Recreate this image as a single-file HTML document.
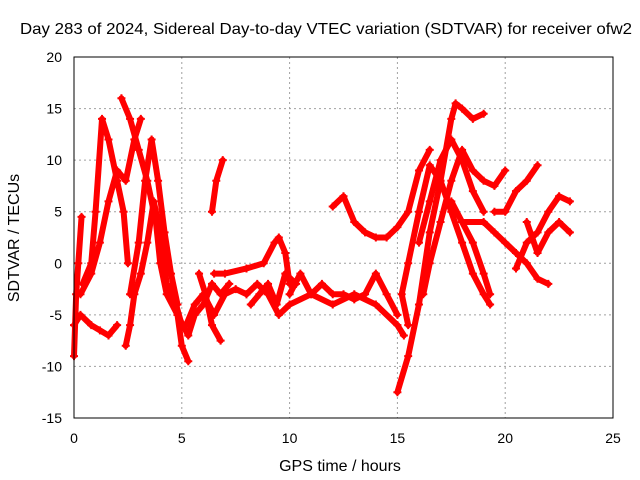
<!DOCTYPE html>
<html><head><meta charset="utf-8"><style>
body{margin:0;background:#fff;}
svg{display:block;font-family:"Liberation Sans",sans-serif;}
</style></head><body>
<svg id="chart" width="640" height="480">
<rect width="640" height="480" fill="#fff"/>
<text x="326" y="34" font-size="16" text-anchor="middle" textLength="612" lengthAdjust="spacingAndGlyphs">Day 283 of 2024, Sidereal Day-to-day VTEC variation (SDTVAR) for receiver ofw2</text>
<text x="340" y="471" font-size="16" text-anchor="middle">GPS time / hours</text>
<text transform="translate(19,238) rotate(-90)" font-size="16" text-anchor="middle">SDTVAR / TECUs</text>
<g id="grid"></g><g id="marks"></g>
<rect x="74" y="57" width="539" height="361" fill="none" stroke="#000"/>
</svg>
<script>
const xTicks=[0,5,10,15,20,25];
const yTicks=[-15,-10,-5,0,5,10,15,20];
const t1=[[0,-6],[0.3,-5],[0.8,-6],[1.2,-6.5],[1.6,-7],[2,-6]];
const t2=[[0,-9],[0.1,-3],[0.2,0],[0.35,4.5]];
const t3=[[0.4,-2],[0.8,0],[1,5],[1.3,14],[1.6,12],[2,8],[2.3,5],[2.5,0]];
const t4=[[2.2,16],[2.6,14],[3,11],[3.4,8],[3.8,4],[4,0],[4.3,-3],[4.8,-5],[5,-8],[5.3,-9.5]];
const t5=[[2.6,-3],[3,2],[3.3,8],[3.6,12],[3.9,8],[4.2,3],[4.5,-1],[4.8,-4]];
const t6=[[5.2,-6],[5.6,-4],[6,-3],[6.5,-5],[7,-3],[7.5,-2.5],[8,-3]];
const t7=[[6.4,5],[6.6,8],[6.9,10]];
const t8=[[6.5,-1],[7,-1],[8,-0.5],[8.8,0],[9.3,2],[9.5,2.5],[9.8,1],[10,-2]];
const t9=[[8,-3],[8.5,-2],[9,-3],[9.5,-5],[10,-4],[11,-3],[12,-4],[13,-3],[14,-4],[15,-6],[15.3,-7]];
const t10=[[12,5.5],[12.5,6.5],[13,4],[13.5,3],[14,2.5],[14.5,2.5],[15,3.5],[15.5,5],[16,9],[16.5,11]];
const t11=[[10,-3],[10.5,-1],[11,-3],[11.5,-2],[12,-3],[12.5,-3],[13,-3.5],[13.5,-3],[14,-1],[14.5,-3],[15,-5]];
const t12=[[15,-12.5],[15.5,-9],[16,-4],[16.5,3],[17,8],[17.5,14],[17.7,15.5],[18,15],[18.5,14],[19,14.5]];
const t13=[[15.5,-6],[15.2,-3],[15.5,0],[16,5],[16.5,9.5],[17,8],[17.5,5],[18,2],[18.5,-1],[19,-3],[19.3,-4]];
const t14=[[16.2,-3],[16.5,0],[17,4],[17.5,8],[18,11],[18.5,9],[19,8],[19.5,7.5],[20,9]];
const t15=[[16,2],[16.5,6],[17,10],[17.5,12],[18,10],[18.5,7],[19,5]];
const t16=[[18,4],[19,4],[19.5,3],[20,2],[20.5,1],[21,0],[21.5,-1.5],[22,-2]];
const t17=[[19.5,5],[20,5],[20.5,7],[21,8],[21.5,9.5]];
const t18=[[20.5,-0.5],[21,2],[21.5,3],[22,5],[22.5,6.5],[23,6]];
const t19=[[21,4],[21.5,1],[22,3],[22.5,4],[23,3]];
const t20=[[17.5,6],[18,4],[18.5,2],[19,-1],[19.3,-3]];
const t21=[[0.3,-3],[0.8,-1],[1.2,2],[1.6,6],[2,9],[2.4,8],[2.8,12],[3.1,14]];
const t22=[[2.4,-8],[2.6,-6],[2.8,-3],[3.1,-1],[3.4,2],[3.7,6],[4,3],[4.3,-2],[4.6,-3],[5,-6]];
const t23=[[4.8,-5],[5.3,-7],[5.6,-5],[6,-4],[6.4,-2],[6.8,-3],[7.2,-2]];
const t24=[[5.8,-1],[6.1,-3],[6.4,-6],[6.8,-7.5]];
const t25=[[8.2,-4],[8.6,-3],[9,-2],[9.4,-4],[9.8,-1],[10.3,-2]];
const tracks=[t1,t2,t3,t4,t5,t6,t7,t8,t9,t10,t11,t12,t13,t14,t15,t16,t17,t18,t19,t20,t21,t22,t23,t24,t25];
const NS='http://www.w3.org/2000/svg';
const X=v=>74+v*539/25, Y=v=>418-(v+15)*361/35;
const grid=document.getElementById('grid'), marks=document.getElementById('marks');
xTicks.forEach(t=>{
 if(t>0&&t<25){const l=document.createElementNS(NS,'line');l.setAttribute('x1',X(t));l.setAttribute('x2',X(t));l.setAttribute('y1',57);l.setAttribute('y2',418);l.setAttribute('stroke','#a0a0a0');l.setAttribute('stroke-dasharray','2,3');
 
 grid.appendChild(l);}
 const s=document.createElementNS(NS,'text');s.setAttribute('x',X(t));s.setAttribute('y',443);s.setAttribute('font-size','14');s.setAttribute('text-anchor','middle');s.textContent=t;
 
 grid.appendChild(s);
});
yTicks.forEach(t=>{
 if(t>-15&&t<20){const l=document.createElementNS(NS,'line');l.setAttribute('x1',74);l.setAttribute('x2',613);l.setAttribute('y1',Y(t));l.setAttribute('y2',Y(t));l.setAttribute('stroke','#a0a0a0');l.setAttribute('stroke-dasharray','2,3');
 
 grid.appendChild(l);}
 const s=document.createElementNS(NS,'text');s.setAttribute('x',62);s.setAttribute('y',Y(t)+5);s.setAttribute('font-size','14');s.setAttribute('text-anchor','end');s.textContent=t;
 
 grid.appendChild(s);
});
tracks.forEach((tr,i)=>{
 const p=document.createElementNS(NS,'polyline');
 p.setAttribute('points',tr.map(d=>X(d[0])+','+Y(d[1])).join(' '));
 p.setAttribute('fill','none');p.setAttribute('stroke','#f00');p.setAttribute('stroke-width','6');p.setAttribute('stroke-linejoin','round');p.setAttribute('stroke-linecap','round');
 
 
 marks.appendChild(p);
 tr.forEach(d=>{
  const m=document.createElementNS(NS,'path');
  const x=X(d[0]),y=Y(d[1]);
  m.setAttribute('d',`M${x-4},${y}H${x+4}M${x},${y-4}V${y+4}`);
  m.setAttribute('stroke','#f00');m.setAttribute('stroke-width','2');
  
  
  marks.appendChild(m);
 });
});
</script>
</body></html>
